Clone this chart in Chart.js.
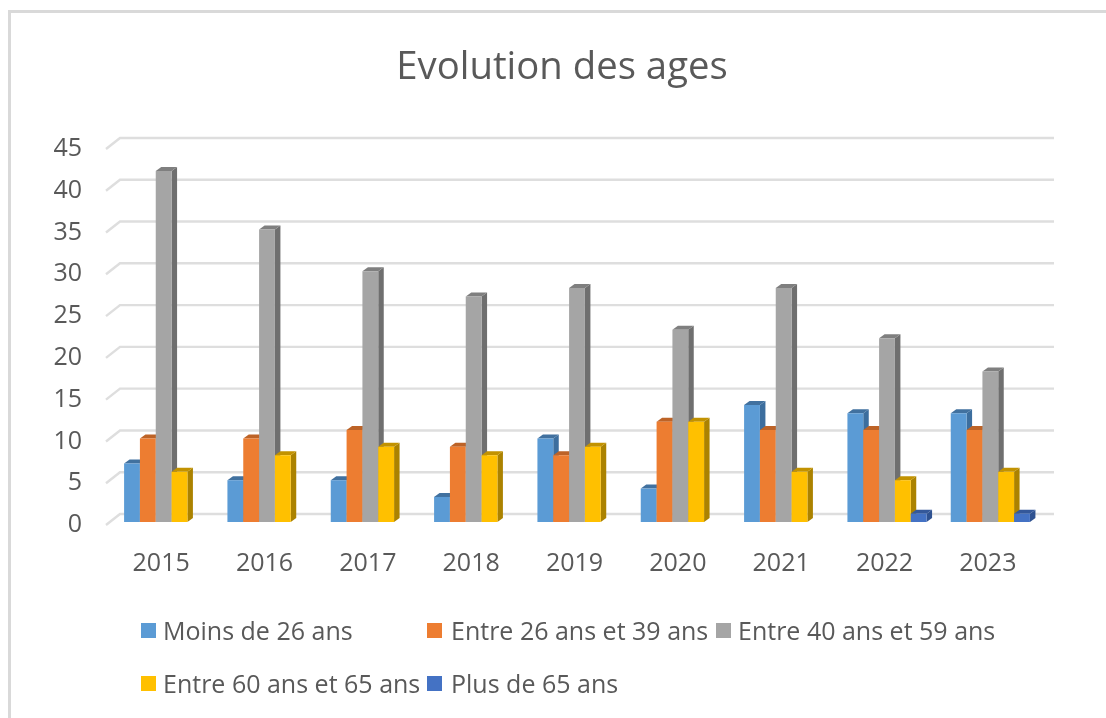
<!DOCTYPE html>
<html><head><meta charset="utf-8">
<style>html,body{margin:0;padding:0;background:#fff}#w{width:1106px;height:718px;position:relative}</style>
<script src="https://cdn.jsdelivr.net/npm/chart.js@4"></script>
</head><body><div id="w"><canvas id="c" width="1106" height="718"></canvas></div>
<script>
const chartTitle = "Evolution des ages";
const years = ["2015","2016","2017","2018","2019","2020","2021","2022","2023"];
const seriesNames = ["Moins de 26 ans","Entre 26 ans et 39 ans","Entre 40 ans et 59 ans","Entre 60 ans et 65 ans","Plus de 65 ans"];
const moins26 = [7,5,5,3,10,4,14,13,13];
const entre26_39 = [10,10,11,9,8,12,11,11,11];
const entre40_59 = [42,35,30,27,28,23,28,22,18];
const entre60_65 = [6,8,9,8,9,12,6,5,6];
const plus65 = [0,0,0,0,0,0,0,1,1];
const frontColors = ["#5b9bd5","#ed7d31","#a5a5a5","#ffc000","#4472c4"];
const sideColors = ["#3c6e9e","#ad5b23","#6f6f6f","#ab8200","#2f5291"];
const topColors = ["#41719f","#bd6327","#7f7f7f","#c29200","#34589a"];
const textColor = "#595959";
const FONT = '"Open Sans"';

const depth3d = {
  id:"depth3d",
  afterLayout(chart){
    chart.titleBlock.left=82;
    chart.titleBlock.right=1042;
  },
  beforeDatasetsDraw(chart){
    const ctx = chart.ctx, ys = chart.scales.y, a = chart.chartArea;
    ctx.save();
    ctx.strokeStyle="#dedede"; ctx.lineWidth=2.4;
    ys.ticks.forEach(t=>{
      const y=ys.getPixelForValue(t.value);
      ctx.beginPath();
      ctx.moveTo(a.left-6,y+3);
      ctx.lineTo(a.left+8,y-8);
      ctx.lineTo(a.right+12,y-8);
      ctx.stroke();
    });
    ctx.restore();
    const dx=5.5, dy=4;
    chart.data.datasets.forEach((ds,i)=>{
      const meta=chart.getDatasetMeta(i);
      meta.data.forEach((el,j)=>{
        if(!ds.data[j]) return;
        const hw=el.width/2, l=el.x-hw, r=el.x+hw, t=el.y, b=el.base;
        ctx.fillStyle=sideColors[i];
        ctx.beginPath();ctx.moveTo(r,t);ctx.lineTo(r+dx,t-dy);ctx.lineTo(r+dx,b-dy);ctx.lineTo(r,b);ctx.closePath();ctx.fill();
        ctx.fillStyle=topColors[i];
        ctx.beginPath();ctx.moveTo(l,t);ctx.lineTo(l+dx,t-dy);ctx.lineTo(r+dx,t-dy);ctx.lineTo(r,t);ctx.closePath();ctx.fill();
      });
      meta.controller.draw();
    });
    return false;
  }
};
const frameAndLegend = {
  id:"frameAndLegend",
  beforeDraw(chart){
    const ctx=chart.ctx;
    ctx.save();
    ctx.fillStyle="#fff";ctx.fillRect(0,0,1106,718);
    ctx.strokeStyle="#d9d9d9";ctx.lineWidth=3;
    ctx.beginPath();ctx.moveTo(9.5,718);ctx.lineTo(9.5,11.5);ctx.lineTo(1106,11.5);ctx.stroke();
    ctx.restore();
  },
  afterDraw(chart){
    const ctx=chart.ctx;
    const slots=[[141,163,631],[427,451,631],[716,738,631],[141,163,684],[427,451,684]];
    ctx.save();
    ctx.font='25px '+FONT;ctx.textBaseline="middle";ctx.textAlign="left";
    seriesNames.forEach((n,i)=>{
      const s=slots[i];
      ctx.fillStyle=frontColors[i];ctx.fillRect(s[0],s[2]-8,15,15);
      ctx.fillStyle=textColor;ctx.fillText(n,s[1],s[2]+1.5);
    });
    ctx.restore();
  }
};
const sets=[moins26,entre26_39,entre40_59,entre60_65,plus65].map((d,i)=>({
  label:seriesNames[i],data:d,backgroundColor:frontColors[i],borderWidth:0,
  barPercentage:1,categoryPercentage:0.766
}));
new Chart(document.getElementById("c"),{
  type:"bar",
  data:{labels:years,datasets:sets},
  plugins:[depth3d,frameAndLegend],
  options:{
    responsive:false,animation:false,
    layout:{padding:{left:0,right:64,top:0,bottom:136}},
    plugins:{
      legend:{display:false},tooltip:{enabled:false},
      title:{display:true,text:chartTitle,color:textColor,font:{family:FONT,size:38.3,weight:"normal"},padding:{top:45,bottom:55}}
    },
    scales:{
      x:{grid:{display:false,drawTicks:false},border:{display:false},
         ticks:{color:textColor,font:{family:FONT,size:25},padding:27,labelOffset:-2.5,maxRotation:0},
         afterFit(s){s.height=60;}},
      y:{min:0,max:45,grid:{display:false,drawTicks:false},border:{display:false},
         ticks:{stepSize:5,color:textColor,font:{family:FONT,size:25},padding:30,labelOffset:3},
         afterFit(s){s.width=112;}}
    }
  }
});
</script></body></html>
